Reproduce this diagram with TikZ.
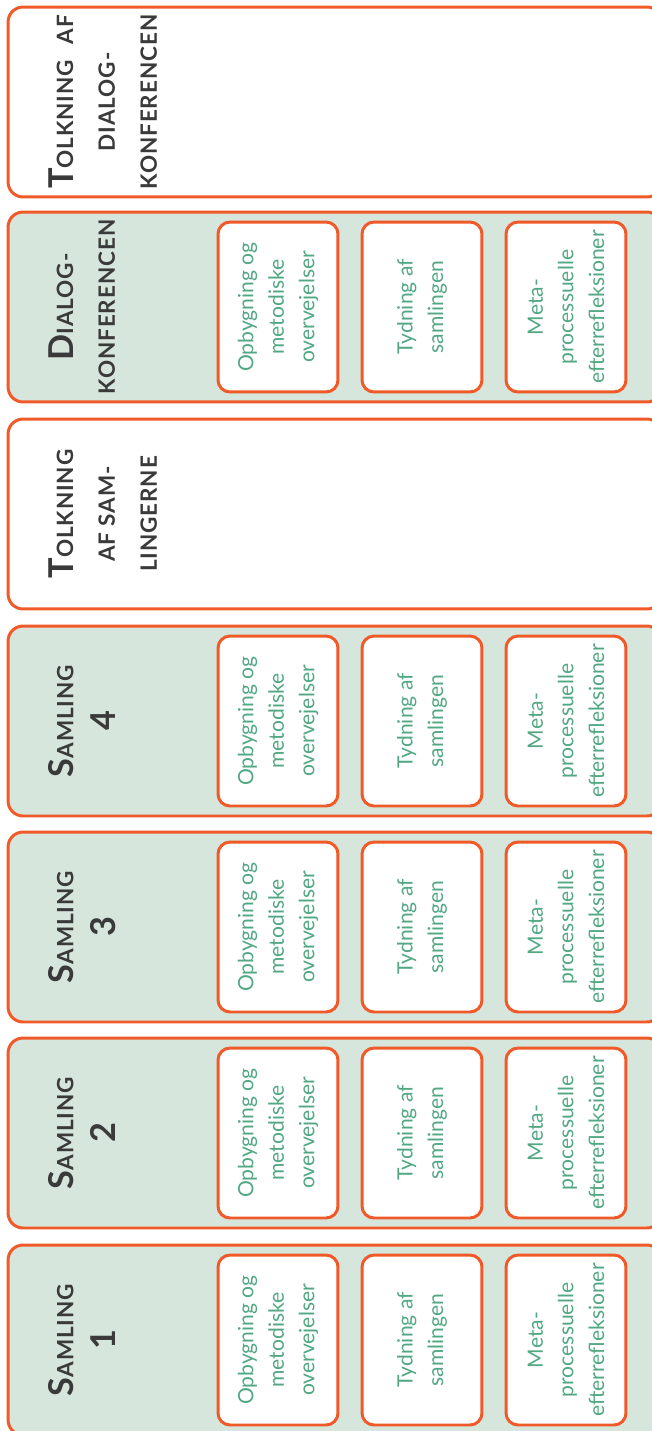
\documentclass[tikz,border=0pt]{standalone}
\usepackage{fontspec}
\setmainfont{Lato}
\usetikzlibrary{positioning}

\definecolor{samorange}{RGB}{240,90,40}
\definecolor{samgreen}{RGB}{214,230,221}
\definecolor{txtgreen}{RGB}{82,168,131}
\definecolor{hdgray}{RGB}{58,58,58}

% first letter of a heading, set larger than the rest
\newcommand{\initial}[1]{{\fontsize{19.5}{23.8}\selectfont #1}}

\begin{document}
\begin{tikzpicture}[x=0.02cm, y=-0.02cm,
  phase/.style={rectangle, rounded corners=0.3cm, draw=samorange,
    line width=1.7pt, minimum width=13.08cm, minimum height=3.8cm, inner sep=0pt},
  session/.style={phase, fill=samgreen},
  interp/.style={phase, fill=white},
  heading/.style={rotate=90, anchor=north, align=center, inner sep=0pt,
    text=hdgray, font=\fontsize{12.8}{23.8}\selectfont\bfseries\addfontfeature{LetterSpace=4}},
  task/.style={rectangle, rounded corners=0.24cm, draw=samorange, fill=white,
    line width=1.7pt, rotate=90, minimum width=3.4cm, minimum height=2.4cm,
    align=center, inner sep=2pt, text=txtgreen,
    font=\fontsize{12}{17.4}\selectfont},
]
\useasboundingbox (0,0) rectangle (652,1431);

% the seven phases, top to bottom
\node[interp]  (tdk)  at (335,102)  {};
\node[session] (dk)   at (335,307)  {};
\node[interp]  (tsam) at (335,514)  {};
\node[session] (sam4) at (335,721)  {};
\node[session] (sam3) at (335,927)  {};
\node[session] (sam2) at (335,1133) {};
\node[session] (sam1) at (335,1340) {};

% headings
\node[heading] (tdk-h)  at (48,102)  {\initial{T}OLKNING\hskip0.7em AF\\DIALOG-\\KONFERENCEN};
\node[heading] (dk-h)   at (48,307)  {\initial{D}IALOG-\\KONFERENCEN};
\node[heading] (tsam-h) at (48,514)  {\initial{T}OLKNING\\AF SAM-\\LINGERNE};
\node[heading] (sam4-h) at (48,721)  {\initial{S}AMLING\\\initial{4}};
\node[heading] (sam3-h) at (48,927)  {\initial{S}AMLING\\\initial{3}};
\node[heading] (sam2-h) at (48,1133) {\initial{S}AMLING\\\initial{2}};
\node[heading] (sam1-h) at (48,1340) {\initial{S}AMLING\\\initial{1}};

% dialogkonferencen
\node[task] (dk-a) at (278,307) {Opbygning og\\metodiske\\overvejelser};
\node[task] (dk-b) at (422,307) {Tydning af\\samlingen};
\node[task] (dk-c) at (566,307) {Meta-\\processuelle\\efterrefleksioner};

% samling 4
\node[task] (sam4-a) at (278,721) {Opbygning og\\metodiske\\overvejelser};
\node[task] (sam4-b) at (422,721) {Tydning af\\samlingen};
\node[task] (sam4-c) at (566,721) {Meta-\\processuelle\\efterrefleksioner};

% samling 3
\node[task] (sam3-a) at (278,927) {Opbygning og\\metodiske\\overvejelser};
\node[task] (sam3-b) at (422,927) {Tydning af\\samlingen};
\node[task] (sam3-c) at (566,927) {Meta-\\processuelle\\efterrefleksioner};

% samling 2
\node[task] (sam2-a) at (278,1133) {Opbygning og\\metodiske\\overvejelser};
\node[task] (sam2-b) at (422,1133) {Tydning af\\samlingen};
\node[task] (sam2-c) at (566,1133) {Meta-\\processuelle\\efterrefleksioner};

% samling 1
\node[task] (sam1-a) at (278,1340) {Opbygning og\\metodiske\\overvejelser};
\node[task] (sam1-b) at (422,1340) {Tydning af\\samlingen};
\node[task] (sam1-c) at (566,1340) {Meta-\\processuelle\\efterrefleksioner};
\end{tikzpicture}
\end{document}
